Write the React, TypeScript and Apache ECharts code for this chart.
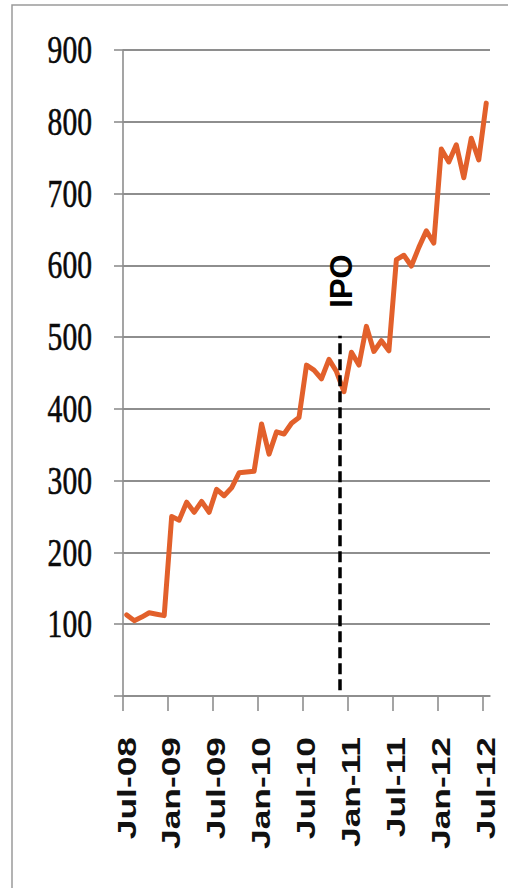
import React, { useEffect, useRef } from "react";
import * as echarts from "echarts";

// Monthly closing values, one per month from Jul-08 to Jul-12
const PRICE = [
  113, 105, 110, 116, 114, 112, // Jul-08 .. Dec-08
  250, 245, 270, 256, 271, 256, // Jan-09 .. Jun-09
  288, 279, 290, 311, 312, 313, // Jul-09 .. Dec-09
  379, 337, 368, 365, 380, 388, // Jan-10 .. Jun-10
  461, 454, 442, 469, 452, 424, // Jul-10 .. Dec-10
  479, 461, 515, 480, 495, 481, // Jan-11 .. Jun-11
  608, 614, 599, 625, 648, 631, // Jul-11 .. Dec-11
  762, 744, 768, 722, 777, 747, // Jan-12 .. Jun-12
  826, // Jul-12
];

// Month index (0 = Jul-08) of each labelled tick
const TICK_MONTHS = [0, 6, 12, 18, 24, 30, 36, 42, 48];
const TICK_LABELS = ["Jul-08", "Jan-09", "Jul-09", "Jan-10", "Jul-10", "Jan-11", "Jul-11", "Jan-12", "Jul-12"];
const Y_LABELS = [100, 200, 300, 400, 500, 600, 700, 800, 900];

// IPO marker: month index and the value range the dashed line spans
const IPO_MONTH = 29;
const IPO_SPAN = [8, 502];
const IPO_TEXT = "IPO";

const GRAY = "#8e8e8e";
const LINE_COLOR = "#E2602B";

export default function App() {
  const ref = useRef<HTMLDivElement>(null);

  useEffect(() => {
    if (!ref.current) return;
    const chart = echarts.init(ref.current, undefined, { renderer: "svg" });

    chart.setOption({
      animation: false,
      backgroundColor: "#ffffff",
      grid: { left: 123, top: 50, right: 18, bottom: 192, containLabel: false },
      xAxis: {
        type: "value",
        min: 0,
        max: PRICE.length,
        axisLine: { show: true, lineStyle: { color: GRAY, width: 1.6 } },
        axisTick: {
          show: true,
          inside: false,
          length: 15,
          customValues: TICK_MONTHS,
          lineStyle: { color: GRAY, width: 1.6 },
        },
        axisLabel: { show: false },
        splitLine: { show: false },
      },
      yAxis: {
        type: "value",
        min: 0,
        max: 900,
        interval: 100,
        axisLine: { show: true, lineStyle: { color: GRAY, width: 1.6 } },
        axisTick: { show: true, inside: false, length: 9, lineStyle: { color: GRAY, width: 1.6 } },
        axisLabel: { show: false },
        splitLine: { show: true, lineStyle: { color: GRAY, width: 1.8 } },
      },
      series: [
        {
          type: "line",
          data: PRICE.map((v, i) => [i + 0.5, v]),
          showSymbol: false,
          lineStyle: { color: LINE_COLOR, width: 5, cap: "round", join: "round" },
          z: 3,
          markLine: {
            silent: true,
            symbol: "none",
            z: 5,
            label: { show: false },
            lineStyle: { color: "#000", width: 3.5, type: [11, 5] },
            data: [[{ coord: [IPO_MONTH, IPO_SPAN[0]] }, { coord: [IPO_MONTH, IPO_SPAN[1]] }]],
          },
        },
      ],
    });

    const px = (m: number) => chart.convertToPixel({ xAxisIndex: 0 }, m) as number;
    const py = (v: number) => chart.convertToPixel({ yAxisIndex: 0 }, v) as number;
    const axisBottom = py(0);

    const yLabelEls = Y_LABELS.map((v) => ({
      type: "text",
      x: 92,
      y: py(v),
      scaleX: 0.74,
      style: {
        text: String(v),
        fontSize: 40,
        fontFamily: "Liberation Serif",
        fill: "#0a0a0a",
        stroke: "#0a0a0a",
        lineWidth: 0.6,
        align: "right",
        textAlign: "right",
        verticalAlign: "middle",
        textVerticalAlign: "middle",
      },
    }));

    const xLabelEls = TICK_MONTHS.map((m, k) => ({
      type: "text",
      x: px(m + 0.5),
      y: axisBottom + 41,
      rotation: Math.PI / 2,
      scaleX: 1.36,
      style: {
        text: TICK_LABELS[k],
        fontSize: 26,
        fontWeight: "bold",
        fontFamily: "Liberation Sans",
        fill: "#111",
        align: "right",
        textAlign: "right",
        verticalAlign: "middle",
        textVerticalAlign: "middle",
      },
    }));

    const ipoEl = {
      type: "text",
      x: px(IPO_MONTH) + 1,
      y: py(IPO_SPAN[1]) - 28,
      rotation: Math.PI / 2,
      style: {
        text: IPO_TEXT,
        fontSize: 31,
        fontWeight: "bold",
        fontFamily: "Liberation Sans",
        fill: "#000",
        align: "left",
        textAlign: "left",
        verticalAlign: "middle",
        textVerticalAlign: "middle",
      },
    };

    const frame = {
      type: "rect",
      z: -1,
      shape: { x: 12, y: 5, width: 700, height: 1100 },
      style: { fill: "none", stroke: "#9a9a9a", lineWidth: 1.5 },
    };

    chart.setOption({ graphic: [frame, ...yLabelEls, ...xLabelEls, ipoEl] });

    return () => chart.dispose();
  }, []);

  return (
    <div
      ref={ref}
      style={{ position: "absolute", left: 0, top: 0, width: 508, height: 888 }}
    />
  );
}
